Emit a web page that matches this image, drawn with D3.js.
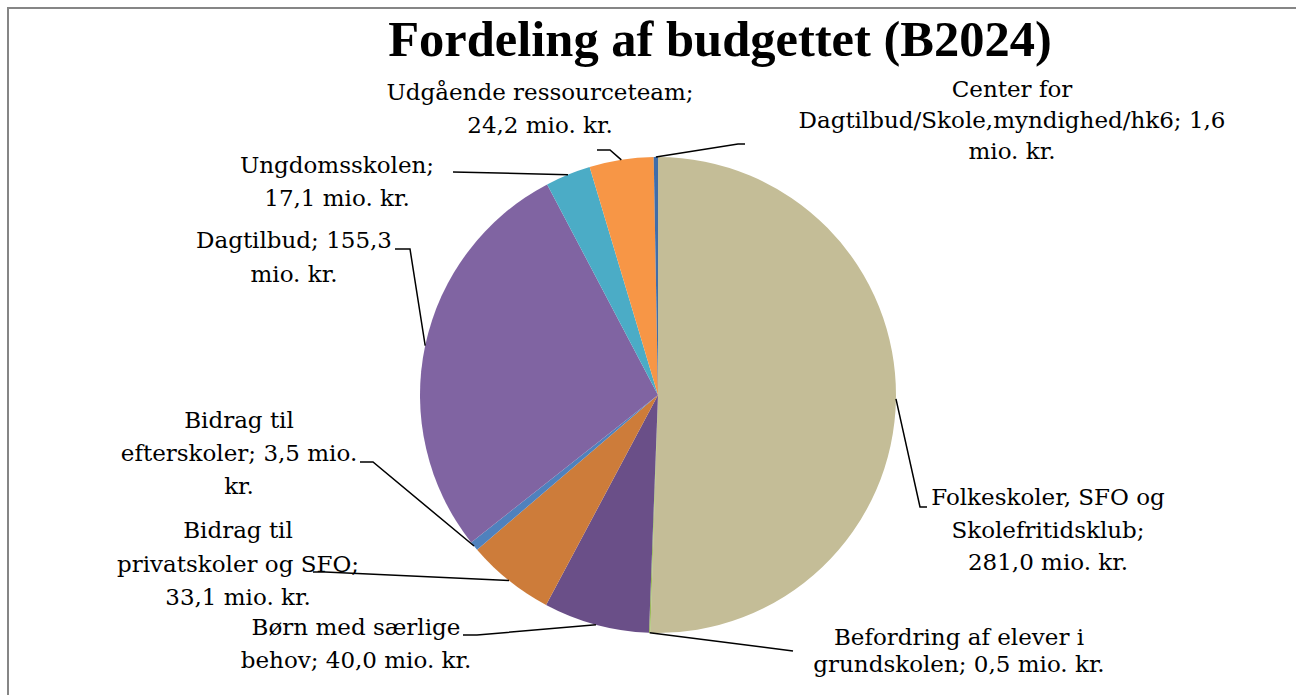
<!DOCTYPE html>
<html>
<head>
<meta charset="utf-8">
<script src="https://cdn.jsdelivr.net/npm/d3@7"></script>
<style>
  body { margin: 0; background: #fff; }
  svg { display: block; }
</style>
</head>
<body>
<div id="canvas"></div>
<script>
const categories = [
  "Folkeskoler, SFO og Skolefritidsklub",
  "Befordring af elever i grundskolen",
  "Børn med særlige behov",
  "Bidrag til privatskoler og SFO",
  "Bidrag til efterskoler",
  "Dagtilbud",
  "Ungdomsskolen",
  "Udgående ressourceteam",
  "Center for Dagtilbud/Skole,myndighed/hk6"
];
const values = [281.0, 0.5, 40.0, 33.1, 3.5, 155.3, 17.1, 24.2, 1.6];
const sliceColors = ["#C4BD97", "#9BBB59", "#6A4F88", "#CD7C3A", "#4F81BD", "#8064A2", "#4BACC6", "#F79646", "#3F6DAA"];
const labelLines = [
  ["Folkeskoler, SFO og", "Skolefritidsklub;", "281,0 mio. kr."],
  ["Befordring af elever i", "grundskolen; 0,5 mio. kr."],
  ["Børn med særlige", "behov; 40,0 mio. kr."],
  ["Bidrag til", "privatskoler og SFO;", "33,1 mio. kr."],
  ["Bidrag til", "efterskoler; 3,5 mio.", "kr."],
  ["Dagtilbud; 155,3", "mio. kr."],
  ["Ungdomsskolen;", "17,1 mio. kr."],
  ["Udgående ressourceteam;", "24,2 mio. kr."],
  ["Center for", "Dagtilbud/Skole,myndighed/hk6; 1,6", "mio. kr."]
];
const title = "Fordeling af budgettet (B2024)";

// layout (label centre x, first baseline y, line height, leader bend points)
const labelLayout = [
  { x: 1048, y: 505, lh: 32.5, leader: [[920, 507], [927, 507]] },
  { x: 959, y: 645, lh: 27, leader: [[793, 651]] },
  { x: 356, y: 635, lh: 33, leader: [[477, 635], [463, 635]] },
  { x: 238, y: 538, lh: 33.5, leader: [[325, 572], [313, 572]] },
  { x: 239, y: 428, lh: 33, leader: [[373, 462], [360, 462]] },
  { x: 294, y: 248, lh: 34, leader: [[410, 249], [395, 249]] },
  { x: 337, y: 173, lh: 33, leader: [[453, 172]] },
  { x: 540, y: 100, lh: 33, leader: [[610, 150], [597, 150]] },
  { x: 1012, y: 97, lh: 31, leader: [[738, 144], [745, 144]] }
];

const width = 1296, height = 695;
const cx = 658, cy = 395, radius = 238;

const svg = d3.select("#canvas")
  .append("svg")
  .attr("width", width)
  .attr("height", height);

// chart frame
svg.append("rect")
  .attr("x", 8)
  .attr("y", 8)
  .attr("width", width + 10)
  .attr("height", height + 10)
  .attr("fill", "none")
  .attr("stroke", "#868686")
  .attr("stroke-width", 2);

svg.append("text")
  .attr("x", 720)
  .attr("y", 56)
  .attr("text-anchor", "middle")
  .style("font-family", "'Liberation Serif', serif")
  .style("font-weight", "bold")
  .style("font-size", "50.5px")
  .text(title);

const pie = d3.pie().sort(null).value(d => d)(values);
const arc = d3.arc().innerRadius(0).outerRadius(radius);
const edge = d3.arc().innerRadius(radius).outerRadius(radius);

const g = svg.append("g")
  .attr("transform", "translate(" + cx + "," + cy + ")");

g.selectAll(".slice")
  .data(pie)
  .enter()
  .append("path")
  .attr("class", "slice")
  .attr("d", arc)
  .attr("fill", (d, i) => sliceColors[i]);

// leader lines
const line = d3.line();
svg.selectAll(".leader")
  .data(pie)
  .enter()
  .append("path")
  .attr("class", "leader")
  .attr("fill", "none")
  .attr("stroke", "#000")
  .attr("stroke-width", 1.5)
  .attr("d", (d, i) => {
    const p = edge.centroid(d);
    return line([[cx + p[0], cy + p[1]]].concat(labelLayout[i].leader));
  });

// labels
const labels = svg.selectAll(".label")
  .data(labelLines)
  .enter()
  .append("text")
  .attr("class", "label")
  .attr("text-anchor", "middle")
  .style("font-family", "'DejaVu Serif', serif")
  .style("font-size", "23px")
  .attr("fill", "#000");

labels.each(function (lines, i) {
  const L = labelLayout[i];
  d3.select(this).selectAll("tspan")
    .data(lines)
    .enter()
    .append("tspan")
    .attr("x", L.x)
    .attr("y", (d, j) => L.y + j * L.lh)
    .text(d => d);
});
</script>
</body>
</html>
